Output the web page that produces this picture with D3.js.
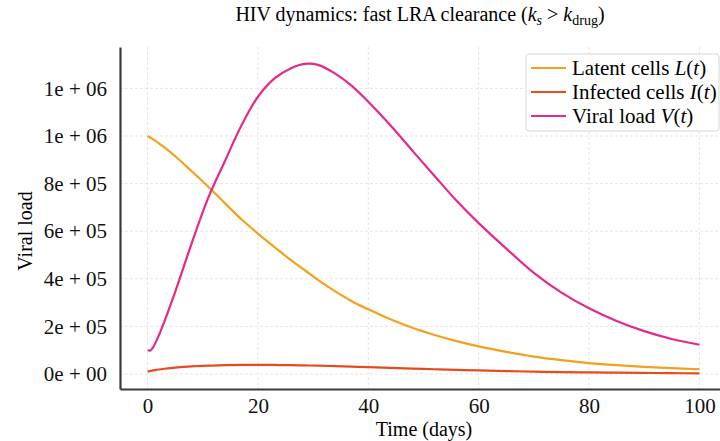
<!DOCTYPE html>
<html>
<head>
<meta charset="utf-8">
<script src="https://cdn.jsdelivr.net/npm/d3@7"></script>
<style>
  body { margin: 0; background: #fff; }
  svg { display: block; font-family: "Liberation Serif", "Times New Roman", serif; }
</style>
</head>
<body>
<div id="chart"></div>
<script>
// time points (days)
const days = [0, 0.5, 1, 2, 3, 5, 8, 11, 14, 17, 20, 23, 26, 28.5, 31, 34, 37, 40, 44, 48, 52, 56, 60, 65, 70, 75, 80, 85, 90, 95, 100];

// series values (in thousands)
const latentK = [1000, 993, 986, 970, 953, 915, 852, 787, 718, 650, 590, 533, 478, 436, 393, 347, 306, 272, 230, 194, 164, 138, 116, 93, 73, 58, 46, 37, 30, 24.5, 20];
const infectedK = [10, 13, 15, 19, 22, 27, 32, 35, 37, 38, 38.5, 38, 37, 36, 35, 33, 31, 29, 26, 23, 20, 17, 15, 12, 10, 8, 6.5, 5.5, 4.5, 3.5, 3];
const viralK = [100, 99, 112, 160, 218, 345, 550, 741, 894, 1044, 1165, 1242, 1285, 1303, 1298, 1262, 1211, 1144, 1045, 938, 832, 728, 634, 527, 425, 342, 276, 223, 180, 147, 123];

const xTicks = [0, 20, 40, 60, 80, 100];
const yTicks = [0, 200000, 400000, 600000, 800000, 1000000, 1200000];

const seriesNames = ["Latent cells", "Infected cells", "Viral load"];
const seriesVars = ["L", "I", "V"];
const seriesColors = ["#f4a01c", "#e84a1e", "#e6288a"];

// chart frame
const W = 720, H = 441;
const FRAME = Object.freeze({ left: 120, right: 727, top: 47, bottom: 389 });

const x = d3.scaleLinear().domain([-5, 105]).range([FRAME.left, FRAME.right]);
const y = d3.scaleLinear().domain([-63000, 1374000]).range([FRAME.bottom, FRAME.top]);

const svg = d3.select("#chart").append("svg")
  .attr("width", W)
  .attr("height", H);

// grid
const grid = svg.append("g");
grid.selectAll(".gx").data(xTicks).enter().append("line")
  .attr("x1", d => x(d)).attr("x2", d => x(d))
  .attr("y1", FRAME.top).attr("y2", FRAME.bottom)
  .attr("stroke", "#dedede").attr("stroke-width", 0.8).attr("stroke-dasharray", "3,2");
grid.selectAll(".gy").data(yTicks).enter().append("line")
  .attr("y1", d => y(d)).attr("y2", d => y(d))
  .attr("x1", FRAME.left).attr("x2", FRAME.right)
  .attr("stroke", "#dedede").attr("stroke-width", 0.8).attr("stroke-dasharray", "3,2");

// lines
const series = [latentK, infectedK, viralK].map((vals, i) => ({
  color: seriesColors[i],
  points: days.map((t, j) => [t, vals[j] * 1000]),
}));

const line = d3.line()
  .x(d => x(d[0]))
  .y(d => y(d[1]))
  .curve(d3.curveCatmullRom.alpha(0.5));

svg.append("g").selectAll("path").data(series).enter().append("path")
  .attr("d", d => line(d.points))
  .attr("fill", "none")
  .attr("stroke", d => d.color)
  .attr("stroke-width", 2.2)
  .attr("stroke-linejoin", "round");

// axes: spines only, no tick marks
const expFormat = v => {
  const [m, e] = v.toExponential(0).split("e");
  const n = Math.abs(+e);
  return `${m}e + ${String(n).padStart(2, "0")}`;
};

const xAxis = svg.append("g")
  .attr("transform", `translate(0,${FRAME.bottom})`)
  .call(d3.axisBottom(x).tickValues(xTicks).tickSize(0).tickPadding(9).tickFormat(d3.format("d")));
const yAxis = svg.append("g")
  .attr("transform", `translate(${FRAME.left},0)`)
  .call(d3.axisLeft(y).tickValues(yTicks).tickSize(0).tickPadding(13).tickFormat(expFormat));

[xAxis, yAxis].forEach(a => {
  a.select(".domain").attr("stroke", "#3a3a3a").attr("stroke-width", 2.2);
  a.selectAll("text")
    .attr("fill", "#111")
    .style("font-family", "Liberation Serif, serif")
    .style("font-size", "21px");
});

// axis labels
svg.append("text")
  .attr("x", 424).attr("y", 436)
  .attr("text-anchor", "middle")
  .style("font-size", "20px")
  .text("Time (days)");

svg.append("text")
  .attr("transform", "translate(32,231) rotate(-90)")
  .attr("text-anchor", "middle")
  .style("font-size", "20px")
  .text("Viral load");

// title
const title = svg.append("text")
  .attr("x", 420).attr("y", 21)
  .attr("text-anchor", "middle")
  .style("font-size", "20px");
title.append("tspan").text("HIV dynamics: fast LRA clearance (");
title.append("tspan").attr("font-style", "italic").text("k");
title.append("tspan").attr("font-style", "italic").attr("font-size", "14px").attr("dy", 4).text("s");
title.append("tspan").attr("dy", -4).text(" > ");
title.append("tspan").attr("font-style", "italic").text("k");
title.append("tspan").attr("font-size", "14px").attr("dy", 4).text("drug");
title.append("tspan").attr("dy", -4).text(")");

// legend
const legend = svg.append("g");
legend.append("rect")
  .attr("x", 526).attr("y", 54)
  .attr("width", 193).attr("height", 77)
  .attr("rx", 3)
  .attr("fill", "#fff").attr("fill-opacity", 0.85)
  .attr("stroke", "#d6d6d6").attr("stroke-width", 1);

const rows = legend.selectAll(".row").data(seriesNames).enter().append("g")
  .attr("transform", (d, i) => `translate(0,${68 + i * 24})`);
rows.append("line")
  .attr("x1", 531).attr("x2", 566)
  .attr("stroke", (d, i) => seriesColors[i])
  .attr("stroke-width", 2.2);
const labels = rows.append("text")
  .attr("x", 572).attr("y", 7)
  .style("font-size", "21px");
labels.append("tspan").text(d => d + " ");
labels.append("tspan").attr("font-style", "italic").text((d, i) => seriesVars[i]);
labels.append("tspan").text("(");
labels.append("tspan").attr("font-style", "italic").text("t");
labels.append("tspan").text(")");
</script>
</body>
</html>
